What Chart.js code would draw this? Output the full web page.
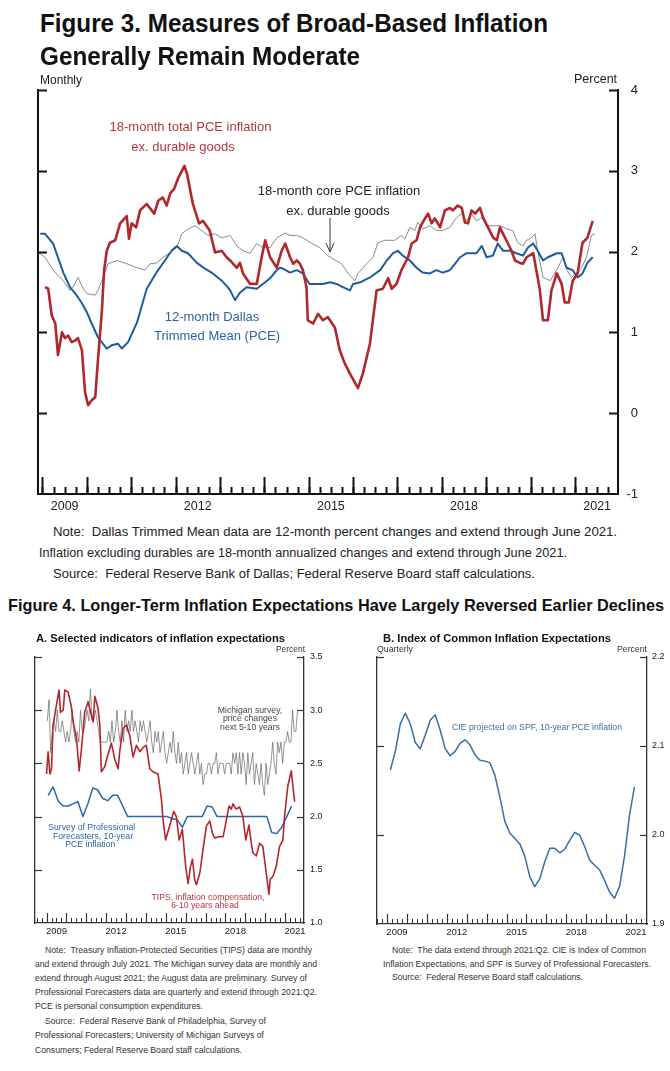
<!DOCTYPE html>
<html><head><meta charset="utf-8">
<script src="https://cdn.jsdelivr.net/npm/chart.js@4.4.1/dist/chart.umd.min.js"></script>
<style>
html,body{margin:0;padding:0;background:#fff;}
#page{position:relative;width:670px;height:1071px;overflow:hidden;font-family:"Liberation Sans",Arial,Helvetica,sans-serif;color:#222;}
.t{position:absolute;white-space:pre;line-height:1;transform-origin:0 0;}
.n{font-family:"Liberation Sans Narrow","Arial Narrow","Liberation Sans",Arial,sans-serif;}
canvas{position:absolute;}
</style></head><body><div id="page">
<canvas id="c3" width="670" height="460" style="left:0;top:60px"></canvas>
<canvas id="cA" width="334" height="300" style="left:0;top:640px"></canvas>
<canvas id="cB" width="330" height="300" style="left:340px;top:640px"></canvas>
<svg style="position:absolute;left:320px;top:215px" width="20" height="42"><line x1="10" y1="3" x2="10" y2="37" stroke="#333" stroke-width="1"/><polyline points="6,28 10,37 14,28" fill="none" stroke="#333" stroke-width="1"/></svg>
</div>
<script>
// ---------------- Figure 3 data (decimal years, percent) ----------------
const f3TotalYear = [2009.06,2009.13,2009.21,2009.29,2009.35,2009.44,2009.51,2009.58,2009.66,2009.74,
2009.80,2009.89,2009.96,2010.03,2010.11,2010.19,2010.25,2010.34,2010.39,2010.45,
2010.52,2010.64,2010.75,2010.90,2010.95,2011.01,2011.11,2011.20,2011.35,2011.52,
2011.61,2011.71,2011.80,2011.88,2011.97,2012.06,2012.20,2012.26,2012.39,2012.53,
2012.62,2012.77,2012.89,2013.04,2013.15,2013.23,2013.38,2013.45,2013.52,2013.68,
2013.83,2013.94,2014.02,2014.13,2014.28,2014.39,2014.47,2014.58,2014.65,2014.73,
2014.80,2014.87,2014.95,2014.98,2015.10,2015.21,2015.32,2015.43,2015.59,2015.70,
2015.81,2015.93,2016.11,2016.22,2016.38,2016.53,2016.67,2016.79,2016.87,2016.98,
2017.09,2017.24,2017.32,2017.43,2017.51,2017.62,2017.69,2017.77,2017.84,2017.91,
2017.96,2018.07,2018.18,2018.25,2018.36,2018.45,2018.52,2018.59,2018.67,2018.75,
2018.86,2018.93,2019.04,2019.16,2019.24,2019.31,2019.38,2019.49,2019.57,2019.65,
2019.76,2019.83,2019.91,2020.06,2020.16,2020.21,2020.28,2020.39,2020.47,2020.59,
2020.70,2020.77,2020.86,2020.95,2021.06,2021.17,2021.28,2021.40];
const f3TotalPct = [1.56,1.54,1.21,1.11,0.72,1.00,0.93,0.96,0.88,0.90,
0.93,0.78,0.26,0.10,0.16,0.20,0.65,1.27,1.77,2.01,
2.11,2.14,2.35,2.44,2.16,2.35,2.30,2.51,2.59,2.47,
2.63,2.67,2.57,2.72,2.78,2.91,3.06,2.96,2.59,2.35,
2.38,2.26,1.99,2.01,1.93,1.89,1.80,1.86,1.73,1.60,
1.60,1.93,2.14,1.93,1.80,2.01,2.10,1.93,1.85,1.89,
1.85,1.77,1.56,1.15,1.11,1.23,1.15,1.19,1.06,0.78,
0.62,0.49,0.31,0.49,0.86,1.52,1.54,1.67,1.54,1.60,
1.77,1.93,2.10,2.14,2.30,2.41,2.47,2.35,2.41,2.35,
2.30,2.51,2.54,2.51,2.57,2.54,2.36,2.35,2.51,2.47,
2.54,2.42,2.30,2.17,2.14,2.30,2.22,2.10,2.01,1.89,
1.86,1.85,1.93,1.98,1.68,1.52,1.15,1.15,1.52,1.73,
1.60,1.37,1.37,1.64,1.73,2.11,2.17,2.38];

const f3CoreYear = [2008.91,2009.06,2009.24,2009.47,2009.62,2009.69,2009.80,2009.92,2010.00,2010.19,
2010.25,2010.37,2010.48,2010.68,2010.90,2011.13,2011.31,2011.43,2011.58,2011.72,
2011.88,2012.03,2012.14,2012.28,2012.44,2012.59,2012.73,2012.89,2013.04,2013.23,
2013.38,2013.52,2013.68,2013.83,2013.97,2014.13,2014.28,2014.47,2014.58,2014.73,
2014.87,2015.07,2015.25,2015.43,2015.55,2015.74,2015.89,2016.04,2016.11,2016.31,
2016.45,2016.56,2016.72,2016.94,2017.09,2017.17,2017.28,2017.39,2017.46,2017.57,
2017.73,2017.88,2018.02,2018.18,2018.33,2018.45,2018.56,2018.67,2018.78,2018.90,
2019.01,2019.15,2019.31,2019.46,2019.60,2019.71,2019.83,2019.91,2020.02,2020.10,
2020.16,2020.28,2020.44,2020.59,2020.73,2020.82,2020.92,2021.04,2021.15,2021.26,
2021.37,2021.45];
const f3CorePct = [1.99,1.93,1.77,1.64,1.52,1.56,1.68,1.54,1.48,1.46,
1.52,1.68,1.85,1.89,1.85,1.80,1.77,1.85,1.86,1.93,
1.99,2.05,2.22,2.28,2.32,2.26,2.20,2.22,2.17,2.20,
2.07,2.01,1.98,2.10,2.05,2.05,2.17,2.23,2.20,2.20,
2.17,2.10,2.05,1.95,1.91,1.85,1.73,1.64,1.73,1.85,
1.93,2.11,2.14,2.14,2.20,2.16,2.30,2.26,2.36,2.28,
2.32,2.26,2.26,2.30,2.42,2.47,2.38,2.47,2.38,2.42,
2.32,2.32,2.32,2.28,2.26,2.11,2.07,2.14,2.17,2.22,
2.01,1.68,1.64,1.77,1.93,1.77,1.68,1.74,1.80,1.93,
2.20,2.22];

const f3TrimYear = [2008.95,2009.06,2009.24,2009.47,2009.62,2009.77,2009.89,2010.00,2010.11,2010.25,
2010.45,2010.56,2010.70,2010.79,2010.93,2011.13,2011.35,2011.58,2011.76,2011.91,
2012.03,2012.14,2012.28,2012.48,2012.66,2012.84,2013.04,2013.16,2013.23,2013.34,
2013.45,2013.60,2013.83,2013.97,2014.13,2014.28,2014.35,2014.42,2014.58,2014.73,
2014.87,2015.02,2015.17,2015.32,2015.48,2015.63,2015.77,2015.93,2016.00,2016.16,
2016.38,2016.61,2016.76,2016.90,2017.01,2017.12,2017.28,2017.43,2017.57,2017.73,
2017.88,2018.02,2018.18,2018.30,2018.41,2018.56,2018.78,2018.90,2019.01,2019.15,
2019.26,2019.38,2019.54,2019.68,2019.83,2019.94,2020.06,2020.16,2020.28,2020.39,
2020.59,2020.70,2020.81,2020.95,2021.06,2021.17,2021.28,2021.40];
const f3TrimPct = [2.22,2.22,2.10,1.74,1.56,1.46,1.36,1.25,1.11,0.94,
0.80,0.84,0.86,0.80,0.88,1.12,1.54,1.75,1.89,2.01,
2.07,2.01,1.98,1.86,1.79,1.73,1.64,1.57,1.52,1.40,
1.49,1.56,1.54,1.60,1.67,1.77,1.80,1.79,1.74,1.77,
1.73,1.60,1.60,1.60,1.62,1.60,1.56,1.52,1.60,1.62,
1.68,1.77,1.89,1.98,2.01,1.95,1.89,1.80,1.74,1.73,
1.77,1.74,1.77,1.85,1.93,1.98,1.98,2.07,1.93,1.95,
2.10,2.01,2.01,1.98,1.95,2.05,2.10,2.01,1.89,1.93,
1.98,1.98,1.80,1.77,1.68,1.73,1.86,1.93];

const f3YearLabels = [2009, 2012, 2015, 2018, 2021];

// ---------------- Figure 4A data ----------------
const tipsYear = [2009.00,2009.08,2009.17,2009.25,2009.33,2009.50,2009.63,2009.70,2009.84,2009.92,
2010.09,2010.25,2010.34,2010.51,2010.64,2010.76,2010.92,2011.09,2011.26,2011.34,
2011.43,2011.59,2011.68,2011.76,2011.93,2012.10,2012.26,2012.43,2012.60,2012.68,
2012.85,2013.02,2013.19,2013.35,2013.52,2013.69,2013.86,2014.02,2014.19,2014.36,
2014.61,2014.78,2014.86,2014.99,2015.11,2015.28,2015.40,2015.53,2015.67,2015.83,
2016.00,2016.12,2016.24,2016.34,2016.45,2016.54,2016.71,2016.87,2017.04,2017.21,
2017.35,2017.46,2017.68,2017.88,2018.04,2018.18,2018.29,2018.38,2018.54,2018.71,
2018.88,2019.02,2019.18,2019.30,2019.38,2019.55,2019.72,2019.88,2020.05,2020.19,
2020.25,2020.39,2020.55,2020.72,2020.89,2020.97,2021.06,2021.14,2021.31,2021.39,
2021.48];
const tipsPct = [2.40,2.61,2.40,2.45,2.86,3.05,3.19,2.98,3.00,3.19,
3.17,3.03,2.89,2.73,2.43,2.64,2.98,3.08,2.95,2.89,
3.13,3.02,2.86,2.42,2.47,2.59,2.69,2.54,2.45,2.61,
2.83,2.86,2.76,2.56,2.67,2.61,2.65,2.67,2.45,2.42,
2.40,2.16,1.97,1.78,1.86,1.97,2.05,2.00,1.78,1.88,
1.53,1.37,1.53,1.60,1.41,1.36,1.47,1.69,1.91,1.96,
1.84,1.80,1.81,1.81,1.96,2.10,2.07,2.12,2.07,2.09,
2.00,1.78,1.92,1.75,1.66,1.63,1.75,1.72,1.47,1.27,
1.41,1.44,1.53,1.72,1.78,2.00,2.16,2.29,2.43,2.29,
2.14];

// Michigan survey, monthly from Jan 2009
const michStartYear = 2009;
const michPct = [
2.9,3.1,2.6,2.8,2.9,2.8,3.0,2.8,2.8,2.9,2.8,2.7,
2.8,2.7,2.8,3.0,2.8,2.7,2.8,2.7,3.0,2.8,2.8,2.9,
3.0,2.9,3.2,2.9,2.9,3.0,2.9,2.8,2.7,2.7,2.7,2.7,
2.7,2.8,2.7,2.9,2.7,2.8,3.0,2.8,2.7,2.9,2.7,3.0,
2.8,2.9,2.8,3.0,2.8,2.9,2.8,2.7,2.9,2.8,2.9,2.8,
2.7,2.8,2.9,2.7,2.6,2.8,2.7,2.8,2.6,2.7,2.8,2.6,
2.5,2.6,2.7,2.6,2.8,2.6,2.5,2.7,2.5,2.6,2.4,2.5,
2.6,2.4,2.5,2.6,2.5,2.4,2.5,2.6,2.4,2.5,2.3,2.4,
2.4,2.5,2.5,2.4,2.5,2.5,2.6,2.4,2.5,2.5,2.5,2.4,
2.5,2.5,2.5,2.4,2.6,2.5,2.6,2.4,2.6,2.4,2.6,2.5,
2.3,2.6,2.4,2.5,2.6,2.3,2.5,2.4,2.3,2.5,2.3,2.2,
2.5,2.3,2.4,2.5,2.7,2.5,2.4,2.7,2.6,2.7,2.5,2.7,
2.7,2.8,2.7,2.7,3.0,2.8,2.8,3.0];

// SPF 10-year PCE, quarterly from 2009:Q1
const spfStartYear = 2009;
const spfPct = [2.20,2.28,2.15,2.10, 2.10,2.12,2.14,2.00, 2.12,2.27,2.25,2.17, 2.15,2.20,2.20,2.10,
2.00,2.00,2.00,2.00, 2.00,2.00,2.00,2.00, 2.00,1.98,1.97,1.90, 2.00,2.00,2.00,2.00,
2.10,2.09,2.00,2.00, 2.00,2.00,2.00,2.00, 2.00,2.00,2.00,2.00, 2.00,1.85,1.84,1.90, 2.00,2.10];

// ---------------- Figure 4B data ----------------
const cieStartYear = 2009; // quarterly from 2009:Q1
const ciePct = [2.073,2.094,2.125,2.137, 2.125,2.104,2.097,2.112, 2.129,2.135,2.118,2.097,
2.089,2.094,2.103,2.107, 2.101,2.090,2.084,2.083, 2.081,2.067,2.042,2.015,
2.002,1.996,1.990,1.976, 1.953,1.942,1.951,1.970, 1.985,1.985,1.980,1.984,
1.994,2.003,2.000,1.987, 1.972,1.966,1.961,1.949, 1.936,1.929,1.942,1.976, 2.022,2.054];

// ---------------- helpers ----------------
Chart.defaults.font.family = "'Liberation Sans', Arial, Helvetica, sans-serif";
Chart.defaults.color = '#222';
const pairs = (xs, ys) => ys.map((y, i) => ({x: xs[i], y}));
const monthly = (start, ys) => ys.map((y, i) => ({x: start + (i + 0.5) / 12, y}));
const quarterly = (start, ys, off) => ys.map((y, i) => ({x: start + off + i * 0.25, y}));
const steps = (a, b, s) => { const r = []; for (let v = a; v <= b + 1e-9; v += s) r.push(+v.toFixed(4)); return r; };
const fixW = w => s => { s.width = w; };
const fixH = h => s => { s.height = h; };
const midYearTicks = yrs => s => { s.ticks = yrs.map(y => ({value: y + 0.5})); };

const inTicks = {
  id: 'inTicks',
  afterDraw(chart, args, opts) {
    const ctx = chart.ctx, a = chart.chartArea;
    ctx.save();
    ctx.strokeStyle = opts.color || '#111';
    (opts.marks || []).forEach(m => {
      const s = chart.scales[m.scale];
      ctx.lineWidth = m.width;
      m.values.forEach(v => {
        const p = Math.round(s.getPixelForValue(v)) + 0.5;
        ctx.beginPath();
        if (m.side === 'bottom') { ctx.moveTo(p, a.bottom); ctx.lineTo(p, a.bottom - m.len); }
        else if (m.side === 'left') { ctx.moveTo(a.left, p); ctx.lineTo(a.left + m.len, p); }
        else { ctx.moveTo(a.right, p); ctx.lineTo(a.right - m.len, p); }
        ctx.stroke();
      });
    });
    ctx.restore();
  }
};

function baseOpts(o) {
  return {
    responsive: false, animation: false, devicePixelRatio: 1,
    layout: {padding: o.pad},
    elements: {point: {radius: 0}, line: {tension: 0, borderJoinStyle: 'round', borderCapStyle: 'butt'}},
    plugins: {legend: {display: false}, tooltip: {enabled: false}, inTicks: o.ticks},
    scales: o.scales
  };
}

// ---------------- Figure 3 chart ----------------
new Chart(document.getElementById('c3'), {
  type: 'line',
  data: {datasets: [
    {data: pairs(f3TotalYear, f3TotalPct), borderColor: '#b0272c', borderWidth: 2.6, order: 0},
    {data: pairs(f3TrimYear, f3TrimPct), borderColor: '#1f5b9c', borderWidth: 2, order: 1},
    {data: pairs(f3CoreYear, f3CorePct), borderColor: '#8a8a8a', borderWidth: 1, order: 2}
  ]},
  options: baseOpts({
    pad: {top: 30, left: 0, right: 32, bottom: 0},
    ticks: {color: '#111', marks: [
      {scale: 'x', side: 'bottom', values: steps(2009, 2021.75, 0.25), len: 7, width: 2},
      {scale: 'x', side: 'bottom', values: steps(2009, 2021, 1), len: 17, width: 2},
      {scale: 'y', side: 'left', values: [0, 1, 2, 3, 4], len: 9, width: 2},
      {scale: 'yR', side: 'right', values: [0, 1, 2, 3, 4], len: 9, width: 2}
    ]},
    scales: {
      x: {type: 'linear', min: 2008.9, max: 2021.97, afterFit: fixH(26), afterBuildTicks: midYearTicks(f3YearLabels),
          ticks: {callback: v => String(Math.floor(v)), font: {size: 12.5}, padding: 5, maxRotation: 0, autoSkip: false, color: '#222'},
          grid: {display: false, drawTicks: false}, border: {display: true, color: '#111', width: 2}},
      y: {position: 'left', min: -1, max: 4, afterFit: fixW(38), ticks: {display: false},
          grid: {display: false, drawTicks: false}, border: {display: true, color: '#111', width: 2}},
      yR: {position: 'right', min: -1, max: 4, afterFit: fixW(20),
          ticks: {stepSize: 1, font: {size: 13}, crossAlign: 'far', padding: 0, color: '#222'},
          grid: {display: false, drawTicks: false}, border: {display: true, color: '#111', width: 2}}
    }
  }),
  plugins: [inTicks]
});

// ---------------- Figure 4A chart ----------------
new Chart(document.getElementById('cA'), {
  type: 'line',
  data: {datasets: [
    {data: pairs(tipsYear, tipsPct), borderColor: '#b2272d', borderWidth: 1.6, order: 0},
    {data: quarterly(spfStartYear, spfPct, 0.08), borderColor: '#2c68a8', borderWidth: 1.5, order: 1},
    {data: monthly(michStartYear, michPct), borderColor: '#666', borderWidth: 0.7, order: 2}
  ]},
  options: baseOpts({
    pad: {top: 17, left: 0, right: 0, bottom: 0},
    ticks: {color: '#333', marks: [
      {scale: 'x', side: 'bottom', values: steps(2008.5, 2021.75, 0.25), len: 5, width: 1},
      {scale: 'x', side: 'bottom', values: steps(2009, 2021, 1), len: 10, width: 1.2},
      {scale: 'y', side: 'left', values: [1.5, 2, 2.5, 3, 3.5], len: 7, width: 1.2},
      {scale: 'yR', side: 'right', values: [1.5, 2, 2.5, 3, 3.5], len: 7, width: 1.2}
    ]},
    scales: {
      x: {type: 'linear', min: 2008.42, max: 2021.95, afterFit: fixH(17), afterBuildTicks: midYearTicks(f3YearLabels),
          ticks: {callback: v => String(Math.floor(v)), font: {size: 9.5}, padding: 3, maxRotation: 0, autoSkip: false, color: '#222'},
          grid: {display: false, drawTicks: false}, border: {display: true, color: '#333', width: 1.3}},
      y: {position: 'left', min: 1, max: 3.5, afterFit: fixW(35), ticks: {display: false},
          grid: {display: false, drawTicks: false}, border: {display: true, color: '#333', width: 1.3}},
      yR: {position: 'right', min: 1, max: 3.5, afterFit: fixW(30),
          ticks: {stepSize: 0.5, font: {size: 9}, padding: 6, color: '#222', callback: v => v.toFixed(1)},
          grid: {display: false, drawTicks: false}, border: {display: true, color: '#333', width: 1.3}}
    }
  }),
  plugins: [inTicks]
});

// ---------------- Figure 4B chart ----------------
new Chart(document.getElementById('cB'), {
  type: 'line',
  data: {datasets: [
    {data: quarterly(cieStartYear, ciePct, 0.17), borderColor: '#3a6da6', borderWidth: 1.5}
  ]},
  options: baseOpts({
    pad: {top: 17, left: 0, right: 0, bottom: 0},
    ticks: {color: '#333', marks: [
      {scale: 'x', side: 'bottom', values: steps(2008.5, 2021.75, 0.25), len: 5, width: 1},
      {scale: 'x', side: 'bottom', values: steps(2009, 2021, 1), len: 10, width: 1.2},
      {scale: 'y', side: 'left', values: [2.0, 2.1, 2.2], len: 7, width: 1.2},
      {scale: 'yR', side: 'right', values: [2.0, 2.1, 2.2], len: 7, width: 1.2}
    ]},
    scales: {
      x: {type: 'linear', min: 2008.5, max: 2022.05, afterFit: fixH(16), afterBuildTicks: midYearTicks(f3YearLabels),
          ticks: {callback: v => String(Math.floor(v)), font: {size: 9.5}, padding: 3, maxRotation: 0, autoSkip: false, color: '#222'},
          grid: {display: false, drawTicks: false}, border: {display: true, color: '#333', width: 1.3}},
      y: {position: 'left', min: 1.9, max: 2.2, afterFit: fixW(37), ticks: {display: false},
          grid: {display: false, drawTicks: false}, border: {display: true, color: '#333', width: 1.3}},
      yR: {position: 'right', min: 1.9, max: 2.2, afterFit: fixW(23),
          ticks: {stepSize: 0.1, font: {size: 9}, padding: 5, color: '#222', callback: v => v.toFixed(1)},
          grid: {display: false, drawTicks: false}, border: {display: true, color: '#333', width: 1.3}}
    }
  }),
  plugins: [inTicks]
});

// ---------------- text ----------------
// [text, x, baseline, size, bold(1)/narrow-bold(2), color, targetWidth, align]
const texts = [
  ['Figure 3. Measures of Broad-Based Inflation', 40, 32, 26, 2, '#111', 508, 'l'],
  ['Generally Remain Moderate', 40, 65, 26, 2, '#111', 320, 'l'],
  ['Monthly', 40, 84, 12, 0, '#222', 0, 'l'],
  ['Percent', 574, 84, 12.5, 0, '#222', 0, 'l'],
  ['18-month total PCE inflation', 190.5, 131.4, 13, 0, '#b5373b', 0, 'c'],
  ['ex. durable goods', 183, 151.4, 13, 0, '#b5373b', 0, 'c'],
  ['18-month core PCE inflation', 339, 194.7, 13, 0, '#222', 0, 'c'],
  ['ex. durable goods', 338, 214.7, 13, 0, '#222', 0, 'c'],
  ['12-month Dallas', 212, 321.4, 13, 0, '#2c64a3', 0, 'c'],
  ['Trimmed Mean (PCE)', 217, 340.4, 13, 0, '#2c64a3', 0, 'c'],
  ['Note:  Dallas Trimmed Mean data are 12-month percent changes and extend through June 2021.', 53, 536.5, 12.5, 0, '#222', 564, 'l'],
  ['Inflation excluding durables are 18-month annualized changes and extend through June 2021.', 39, 557.5, 12.5, 0, '#222', 528, 'l'],
  ['Source:  Federal Reserve Bank of Dallas; Federal Reserve Board staff calculations.', 53, 578.5, 12.5, 0, '#222', 482, 'l'],
  ['Figure 4. Longer-Term Inflation Expectations Have Largely Reversed Earlier Declines', 8, 611, 16.5, 2, '#111', 656, 'l'],
  ['A. Selected indicators of inflation expectations', 36, 641.5, 10.5, 1, '#111', 249, 'l'],
  ['B. Index of Common Inflation Expectations', 383, 641.5, 10.5, 1, '#111', 228, 'l'],
  ['Percent', 276, 652, 8.5, 0, '#333', 29, 'l'],
  ['Quarterly', 377, 652, 8.5, 0, '#333', 36, 'l'],
  ['Percent', 617, 652, 8.5, 0, '#333', 30, 'l'],
  ['Michigan survey,', 250, 713, 8.7, 0, '#444', 0, 'c'],
  ['price changes', 250, 721.5, 8.7, 0, '#444', 0, 'c'],
  ['next 5-10 years', 250, 730, 8.7, 0, '#444', 0, 'c'],
  ['Survey of Professional', 91.7, 830, 8.7, 0, '#2c68a8', 0, 'c'],
  ['Forecasters, 10-year', 93, 839, 8.7, 0, '#2c68a8', 0, 'c'],
  ['PCE inflation', 90.3, 847.5, 8.7, 0, '#2c68a8', 0, 'c'],
  ['TIPS, inflation compensation,', 208, 900, 8.7, 0, '#b5373b', 0, 'c'],
  ['6-10 years ahead', 205, 908.5, 8.7, 0, '#b5373b', 0, 'c'],
  ['CIE projected on SPF, 10-year PCE inflation', 537, 730, 8.7, 0, '#3a6da6', 0, 'c'],
  ['Note:  Treasury Inflation-Protected Securities (TIPS) data are monthly', 45, 954, 9.2, 0, '#333', 267, 'l'],
  ['and extend through July 2021. The Michigan survey data are monthly and', 35, 968, 9.2, 0, '#333', 282, 'l'],
  ['extend through August 2021; the August data are preliminary. Survey of', 35, 982, 9.2, 0, '#333', 272, 'l'],
  ['Professional Forecasters data are quarterly and extend through 2021:Q2.', 35, 996, 9.2, 0, '#333', 282, 'l'],
  ['PCE is personal consumption expenditures.', 35, 1010, 9.2, 0, '#333', 168, 'l'],
  ['Source:  Federal Reserve Bank of Philadelphia, Survey of', 45, 1024.5, 9.2, 0, '#333', 221, 'l'],
  ['Professional Forecasters; University of Michigan Surveys of', 35, 1039, 9.2, 0, '#333', 229, 'l'],
  ['Consumers; Federal Reserve Board staff calculations.', 35, 1053.5, 9.2, 0, '#333', 207, 'l'],
  ['Note:  The data extend through 2021:Q2. CIE is Index of Common', 392, 954, 9.2, 0, '#333', 254, 'l'],
  ['Inflation Expectations, and SPF is Survey of Professional Forecasters.', 383, 967.5, 9.2, 0, '#333', 268, 'l'],
  ['Source:  Federal Reserve Board staff calculations.', 392, 981, 9.2, 0, '#333', 191, 'l']
];
const page = document.getElementById('page');
texts.forEach(([s, x, b, fs, bold, col, tw, al]) => {
  const d = document.createElement('div');
  d.className = 't' + (bold === 2 ? ' n' : '');
  d.textContent = s;
  d.style.fontSize = fs + 'px';
  d.style.fontWeight = bold ? 'bold' : 'normal';
  d.style.color = col;
  d.style.top = (b - 0.8465 * fs) + 'px';
  page.appendChild(d);
  const nat = d.getBoundingClientRect().width;
  let w = nat;
  if (tw) { d.style.transform = 'scaleX(' + (tw / nat) + ')'; w = tw; }
  d.style.left = (al === 'c' ? x - w / 2 : x) + 'px';
});
</script>
</body></html>
